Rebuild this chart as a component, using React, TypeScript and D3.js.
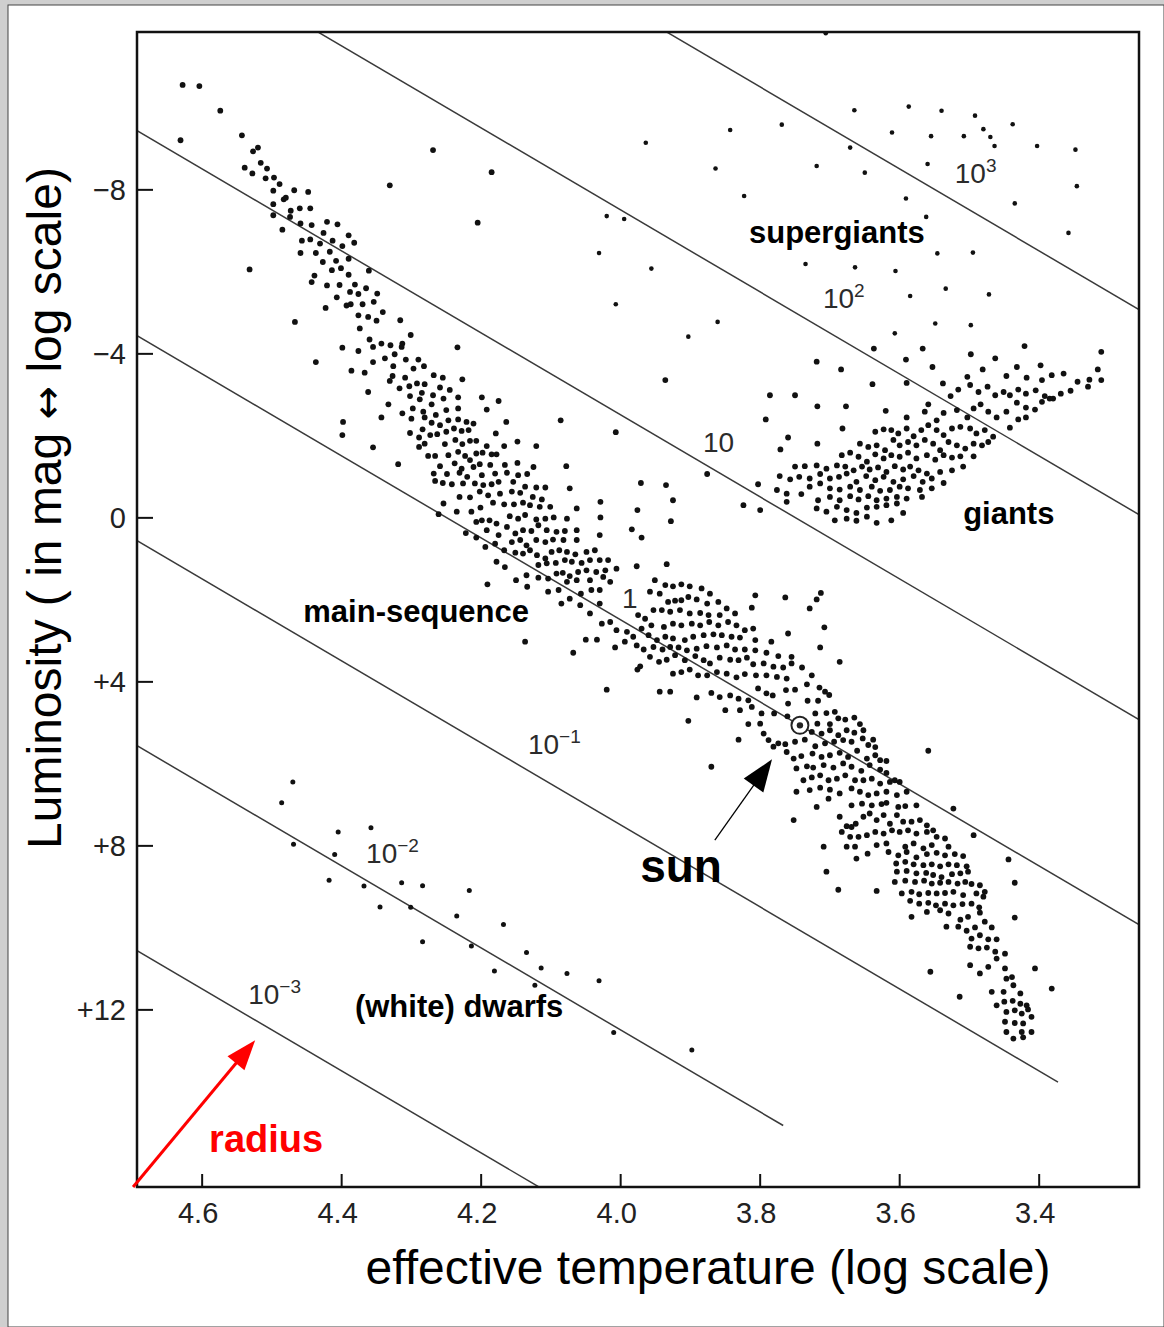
import React from "react";
import * as d3 from "d3";

// ---- axes ----
const tempExtent: [number, number] = [4.6934, 3.2569]; // log Teff at left / right frame
const magExtent: [number, number] = [-11.85, 16.32]; // absolute magnitude at top / bottom frame
const tempTicks = [4.6, 4.4, 4.2, 4.0, 3.8, 3.6, 3.4];
const tempTickLabels = ["4.6", "4.4", "4.2", "4.0", "3.8", "3.6", "3.4"];
const magTicks = [-8, -4, 0, 4, 8, 12];
const magTickLabels = ["−8", "−4", "0", "+4", "+8", "+12"];

// ---- constant-radius lines (solar radii) ----
const sunPoint: [number, number] = [3.743, 5.06];
const radii = [0.001, 0.01, 0.1, 1, 10, 100, 1000];
const radiusLineEnd = [3.2, 3.767, 3.373, 3.2, 3.2, 3.2, 3.2];
const radiusLabelBase = ["10", "10", "10", "1", "10", "10", "10"];
const radiusLabelExp = ["−3", "−2", "−1", "", "", "2", "3"];
const radiusLabelAt: [number, number][] = [
  [4.534, 11.86], [4.365, 8.42], [4.133, 5.77], [3.998, 2.2], [3.882, -1.6], [3.71, -5.11], [3.521, -8.16],
];

// ---- region names ----
const regionNames = ["supergiants", "giants", "main-sequence", "(white) dwarfs"];
const regionLabelAt: [number, number][] = [[3.816, -6.7], [3.509, 0.15], [4.455, 2.55], [4.381, 12.18]];
const sunLabelAt: [number, number] = [3.972, 8.89];
const sunArrow: [number, number][] = [[3.865, 7.86], [3.783, 5.89]];
const radiusLabelPos: [number, number] = [4.59, 15.47];
const radiusArrow: [number, number][] = [[4.699, 16.32], [4.524, 12.74]];

// ---- stars: [log Teff, absolute magnitude] ----
const mainSequence: [number, number][] = [
  [4.628,-10.56],[4.604,-10.53],[4.574,-9.93],[4.631,-9.21],[4.543,-9.33],[4.52,-9.03],[4.527,-8.94],[4.539,-8.54],[4.516,-8.66],[4.507,-8.52],[4.528,-8.4],[4.509,-8.28],[4.497,-8.3],[4.489,-8.14],[4.498,-7.98],[4.468,-7.99],[4.448,-7.95],[4.483,-7.77],[4.48,-7.81],[4.498,-7.65],[4.473,-7.49],[4.46,-7.55],[4.445,-7.55],[4.498,-7.38],[4.474,-7.34],[4.459,-7.18],[4.443,-7.14],[4.485,-7.03],[4.421,-7.22],[4.406,-7.16],[4.426,-6.95],[4.413,-6.76],[4.39,-6.89],[4.382,-6.71],[4.399,-6.63],[4.457,-6.76],[4.445,-6.79],[4.431,-6.69],[4.459,-6.46],[4.437,-6.46],[4.417,-6.49],[4.39,-6.32],[4.427,-6.24],[4.408,-6.27],[4.414,-6.04],[4.401,-6.09],[4.361,-6.03],[4.439,-5.91],[4.443,-5.75],[4.39,-5.93],[4.421,-5.67],[4.403,-5.68],[4.381,-5.69],[4.365,-5.6],[4.388,-5.51],[4.376,-5.46],[4.349,-5.47],[4.407,-5.38],[4.393,-5.18],[4.387,-5.21],[4.37,-5.21],[4.354,-5.27],[4.423,-5.12],[4.341,-5.02],[4.376,-4.94],[4.362,-4.9],[4.35,-4.81],[4.467,-4.78],[4.374,-4.62],[4.532,-6.06],[4.331,-8.11],[4.316,-4.82],
  [4.269,-8.97],[4.185,-8.43],[4.205,-7.2],[4.437,-3.8],
  [4.301,-4.46],[4.36,-4.35],[4.343,-4.25],[4.33,-4.21],[4.355,-4.17],[4.313,-4.25],[4.314,-4.17],[4.399,-4.15],[4.376,-4.07],[4.234,-4.16],[4.324,-3.99],[4.338,-3.89],[4.355,-3.8],[4.308,-3.86],[4.29,-3.86],[4.282,-3.7],[4.326,-3.7],[4.297,-3.64],[4.386,-3.59],[4.367,-3.54],[4.327,-3.46],[4.309,-3.42],[4.331,-3.34],[4.268,-3.48],[4.255,-3.42],[4.227,-3.38],[4.317,-3.16],[4.303,-3.21],[4.292,-3.28],[4.281,-3.26],[4.259,-3.18],[4.362,-3.07],[4.302,-2.97],[4.285,-3.05],[4.269,-2.99],[4.245,-3.12],[4.233,-2.94],[4.199,-2.94],[4.175,-2.85],[4.333,-2.77],[4.313,-2.55],[4.298,-2.67],[4.288,-2.89],[4.271,-2.77],[4.254,-2.91],[4.283,-2.59],[4.265,-2.51],[4.25,-2.63],[4.233,-2.67],[4.192,-2.64],[4.343,-2.45],[4.3,-2.42],[4.281,-2.45],[4.271,-2.32],[4.259,-2.26],[4.247,-2.38],[4.233,-2.4],[4.221,-2.34],[4.211,-2.3],[4.164,-2.34],[4.086,-2.38],[4.398,-2.34],[4.399,-2.02],[4.302,-2.07],[4.284,-2.16],[4.289,-1.96],[4.273,-2.02],[4.263,-2.04],[4.25,-2.1],[4.239,-2.18],[4.228,-2.12],[4.218,-2.14],[4.179,-2.06],[4.355,-1.72],[4.289,-1.73],[4.281,-1.81],[4.252,-1.8],[4.237,-1.9],[4.227,-1.8],[4.216,-1.88],[4.207,-1.88],[4.192,-1.75],[4.167,-1.75],[4.148,-1.86],[4.121,-1.75],[4.276,-1.51],[4.319,-1.31],
  [4.007,-2.09],[3.936,-3.36],[3.876,-1.07],
  [4.266,-1.51],[4.247,-1.53],[4.233,-1.61],[4.207,-1.57],[4.198,-1.59],[4.185,-1.55],[4.178,-1.55],[4.223,-1.51],[4.216,-1.41],[4.259,-1.26],[4.238,-1.33],[4.228,-1.2],[4.211,-1.24],[4.202,-1.31],[4.187,-1.29],[4.166,-1.29],[4.148,-1.34],[4.125,-1.24],[4.078,-1.26],
  [4.268,-1.08],[4.249,-1.07],[4.231,-1.1],[4.22,-1.0],[4.199,-1.04],[4.18,-1.08],[4.163,-1.1],[4.147,-1.04],[4.134,-1.07],[4.266,-0.9],[4.255,-0.85],[4.242,-0.82],[4.226,-0.84],[4.209,-0.84],[4.197,-0.8],[4.185,-0.82],[4.175,-0.88],[4.154,-0.88],[4.137,-0.76],[4.121,-0.74],[4.108,-0.74],[4.073,-0.72],[3.971,-0.85],[3.935,-0.8],
  [4.254,-0.35],[4.231,-0.51],[4.216,-0.5],[4.202,-0.64],[4.19,-0.55],[4.173,-0.59],[4.156,-0.64],[4.144,-0.61],[4.126,-0.51],[4.113,-0.45],[4.235,-0.15],[4.214,-0.15],[4.201,-0.25],[4.183,-0.37],[4.167,-0.33],[4.153,-0.33],[4.14,-0.37],[4.13,-0.31],[4.116,-0.27],[4.101,-0.27],[4.063,-0.23],[4.029,-0.39],[3.976,-0.19],[3.925,-0.43],
  [4.261,-0.09],[4.222,0.37],[4.207,0.1],[4.199,0.06],[4.188,0.06],[4.178,0.14],[4.159,-0.04],[4.147,0.02],[4.137,-0.07],[4.121,0.04],[4.108,0.02],[4.096,-0.01],[4.077,0.02],[4.029,-0.01],[3.928,0.08],
  [4.207,0.48],[4.192,0.3],[4.175,0.42],[4.163,0.22],[4.151,0.38],[4.14,0.3],[4.128,0.32],[4.118,0.18],[4.106,0.3],[4.092,0.34],[4.08,0.32],[4.063,0.3],[3.984,0.28],[3.97,0.48],
  [4.194,0.71],[4.18,0.63],[4.167,0.79],[4.156,0.59],[4.144,0.54],[4.135,0.67],[4.121,0.54],[4.108,0.59],[4.097,0.53],[4.082,0.54],[4.063,0.54],[4.03,0.42],
  [4.178,1.07],[4.166,1.2],[4.151,0.85],[4.14,0.87],[4.13,0.79],[4.12,0.91],[4.108,0.99],[4.099,0.83],[4.088,0.79],[4.077,0.83],[4.065,0.89],[4.049,0.83],[4.037,0.79],
  [4.135,1.4],[4.118,1.15],[4.106,1.11],[4.093,1.1],[4.08,1.03],[4.07,1.07],[4.056,1.1],[4.044,1.03],[4.03,1.03],[4.018,1.03],[4.006,1.24],
  [4.191,1.62],[4.15,1.52],[4.134,1.68],[4.118,1.46],[4.104,1.48],[4.092,1.36],[4.083,1.34],[4.073,1.42],[4.061,1.32],[4.049,1.28],[4.035,1.32],[4.022,1.28],[4.077,1.56],[4.063,1.52],[4.044,1.52],[4.025,1.44],[4.015,1.56],
  [4.085,2.09],[4.073,1.97],[4.057,1.85],[4.042,1.76],[4.03,1.76],[4.058,2.13],[4.044,2.33],[4.104,1.8],[4.089,1.76],[4.03,2.09],[4.015,2.54],[4.027,2.58],[4.006,2.74],
  [4.137,3.02],[4.068,3.29],[4.05,2.97],[4.034,2.97],[4.008,3.16],[4.02,4.19],
  [3.977,1.18],[3.934,1.13],[3.951,1.52],[3.936,1.64],[3.925,1.67],[3.913,1.62],[3.901,1.67],[3.884,1.72],[3.872,1.85],[3.958,1.8],[3.944,1.85],[3.932,2.05],[3.922,2.02],[3.913,2.01],[3.903,1.93],[3.891,1.99],[3.876,2.09],[3.86,2.05],[3.848,2.21],[3.836,2.33],[3.807,1.89],[3.764,1.94],[3.713,1.83],[3.719,1.99],[3.729,2.21],[3.812,2.19],
  [3.953,2.25],[3.941,2.25],[3.929,2.29],[3.915,2.25],[3.901,2.33],[3.886,2.32],[3.874,2.37],[3.858,2.37],[3.975,2.37],[3.965,2.46],[3.991,2.78],[3.97,2.7],[3.956,2.62],[3.938,2.66],[3.925,2.58],[3.913,2.62],[3.898,2.58],[3.886,2.62],[3.873,2.54],[3.86,2.62],[3.846,2.54],[3.834,2.62],[3.822,2.74],[3.81,2.7],[3.76,2.82],[3.708,2.67],
  [3.982,2.9],[3.96,2.86],[3.948,2.98],[3.936,2.9],[3.925,2.94],[3.908,2.98],[3.896,2.9],[3.881,2.86],[3.867,2.84],[3.855,2.86],[3.841,2.9],[3.829,2.92],[3.807,2.98],[3.784,3.02],[3.714,3.16],
  [3.994,3.02],[3.977,3.11],[3.967,3.21],[3.953,3.15],[3.94,3.21],[3.929,3.15],[3.917,3.16],[3.905,3.23],[3.891,3.19],[3.877,3.13],[3.862,3.16],[3.848,3.11],[3.836,3.21],[3.822,3.21],[3.807,3.23],[3.791,3.29],[3.774,3.37],[3.755,3.39],[3.686,3.51],
  [3.972,3.62],[3.976,3.7],[3.958,3.39],[3.945,3.51],[3.934,3.46],[3.922,3.35],[3.908,3.47],[3.893,3.37],[3.881,3.47],[3.872,3.55],[3.858,3.41],[3.843,3.46],[3.831,3.47],[3.819,3.41],[3.81,3.57],[3.795,3.55],[3.781,3.63],[3.767,3.65],[3.755,3.55],[3.74,3.65],[3.726,3.84],
  [3.925,3.8],[3.913,3.76],[3.901,3.7],[3.889,3.84],[3.876,3.84],[3.862,3.76],[3.848,3.8],[3.834,3.89],[3.822,3.81],[3.806,3.84],[3.791,3.84],[3.776,3.88],[3.762,3.92],
  [3.944,4.24],[3.929,4.24],[3.891,4.38],[3.87,4.27],[3.858,4.37],[3.843,4.33],[3.831,4.41],[3.817,4.45],[3.803,4.16],[3.791,4.28],[3.782,4.33],
  [3.903,4.95],[3.85,4.69],[3.829,4.69],[3.812,4.61],[3.798,4.77],[3.78,4.77],[3.831,5.41],[3.817,5.03],[3.8,5.02],[3.795,5.26],[3.788,5.42],[3.781,5.58],[3.774,5.5],[3.87,6.07],
  [3.763,4.2],[3.75,4.19],[3.733,4.06],[3.715,4.14],[3.707,4.24],[3.701,4.32],[3.76,4.53],[3.732,4.46],[3.717,4.46],[3.761,4.84],[3.721,4.77],[3.705,4.76],[3.693,4.73],
  [3.718,5.02],[3.7,5.03],[3.688,4.89],[3.678,4.92],[3.665,4.87],[3.657,5.03],[3.726,5.22],[3.712,5.26],[3.7,5.18],[3.688,5.3],[3.676,5.18],[3.665,5.24],[3.652,5.18],[3.638,5.41],[3.764,5.52],[3.75,5.46],[3.736,5.41],[3.721,5.57],[3.707,5.5],[3.694,5.46],[3.681,5.42],[3.669,5.46],[3.653,5.38],[3.645,5.54],[3.635,5.59],
  [3.762,5.71],[3.752,5.87],[3.741,5.81],[3.725,5.75],[3.712,5.83],[3.7,5.79],[3.686,5.73],[3.674,5.83],[3.661,5.68],[3.647,5.87],[3.635,5.79],[3.628,5.91],[3.619,5.93],[3.559,5.68],[3.748,6.11],[3.733,6.06],[3.724,6.09],[3.709,6.03],[3.695,6.09],[3.681,5.99],[3.669,6.07],[3.655,6.17],[3.643,6.03],[3.628,6.14],[3.619,6.22],[3.607,6.4],[3.6,6.44],
  [3.738,6.4],[3.726,6.33],[3.714,6.28],[3.702,6.4],[3.69,6.36],[3.678,6.28],[3.664,6.4],[3.652,6.4],[3.64,6.36],[3.628,6.48],[3.614,6.44],[3.748,6.68],[3.729,6.64],[3.714,6.58],[3.7,6.63],[3.686,6.72],[3.669,6.6],[3.657,6.68],[3.645,6.76],[3.633,6.72],[3.619,6.68],[3.604,6.76],[3.59,6.68],
  [3.719,7.05],[3.702,6.85],[3.669,7.01],[3.654,6.97],[3.64,7.01],[3.626,6.98],[3.619,6.95],[3.602,7.05],[3.592,7.03],[3.576,7.01],[3.523,7.09],
  [3.752,7.37],[3.686,7.29],[3.676,7.52],[3.669,7.54],[3.663,7.46],[3.652,7.29],[3.643,7.21],[3.633,7.37],[3.623,7.25],[3.614,7.46],[3.604,7.25],[3.595,7.41],[3.583,7.41],[3.571,7.37],[3.561,7.5],[3.552,7.62],
  [3.683,7.66],[3.671,7.78],[3.659,7.78],[3.647,7.74],[3.635,7.66],[3.623,7.7],[3.611,7.62],[3.6,7.66],[3.588,7.62],[3.576,7.7],[3.561,7.66],[3.547,7.78],[3.535,7.82],[3.494,7.74],
  [3.709,8.02],[3.676,8.02],[3.664,8.02],[3.662,8.31],[3.646,8.19],[3.633,7.98],[3.619,7.94],[3.592,8.02],[3.58,7.94],[3.566,8.06],[3.554,7.98],[3.53,8.02],[3.705,8.63],[3.688,9.07],[3.633,9.1],
  [3.616,8.15],[3.602,8.23],[3.59,8.15],[3.576,8.28],[3.561,8.2],[3.547,8.17],[3.535,8.23],[3.521,8.2],[3.509,8.25],[3.444,8.33],[3.605,8.43],[3.592,8.39],[3.58,8.45],[3.566,8.47],[3.554,8.45],[3.542,8.5],[3.53,8.45],[3.518,8.47],[3.504,8.5],
  [3.604,8.63],[3.59,8.61],[3.576,8.67],[3.562,8.66],[3.552,8.71],[3.54,8.76],[3.525,8.69],[3.513,8.67],[3.502,8.63],[3.607,8.88],[3.592,8.85],[3.578,8.88],[3.565,8.85],[3.554,8.92],[3.542,8.9],[3.53,8.88],[3.517,8.92],[3.506,8.88],[3.497,8.93],[3.485,8.96],[3.478,9.12],[3.435,8.9],
  [3.597,9.16],[3.583,9.12],[3.572,9.18],[3.559,9.15],[3.547,9.16],[3.535,9.15],[3.523,9.12],[3.509,9.2],[3.49,9.16],[3.48,9.24],[3.585,9.34],[3.572,9.41],[3.559,9.39],[3.548,9.45],[3.535,9.41],[3.523,9.45],[3.51,9.42],[3.497,9.41],[3.486,9.5],
  [3.583,9.73],[3.561,9.61],[3.542,9.57],[3.53,9.65],[3.513,9.8],[3.502,9.73],[3.485,9.63],[3.533,9.97],[3.516,9.97],[3.504,10.07],[3.492,9.99],[3.478,9.85],[3.468,9.99],[3.435,9.75],
  [3.497,10.26],[3.485,10.18],[3.473,10.28],[3.461,10.28],[3.499,10.46],[3.487,10.5],[3.475,10.48],[3.463,10.58],[3.449,10.63],[3.499,10.91],[3.485,11.11],[3.473,10.95],[3.461,10.75],[3.449,10.99],[3.406,10.99],[3.556,11.07],
  [3.514,11.68],[3.468,11.56],[3.451,11.56],[3.447,11.24],[3.439,11.2],[3.437,11.4],[3.427,11.6],[3.461,11.89],[3.45,11.8],[3.438,11.78],[3.427,11.85],[3.418,11.89],[3.382,11.48],[3.447,12.05],[3.435,12.01],[3.425,12.09],[3.416,11.99],[3.411,12.17],[3.449,12.29],[3.435,12.32],[3.423,12.33],[3.447,12.54],[3.437,12.7],[3.425,12.54],[3.411,12.54],[3.423,12.67],
];

const giants: [number, number][] = [
  [3.637,-4.13],[3.567,-4.13],[3.421,-4.19],[3.311,-4.05],[3.591,-3.86],[3.498,-3.99],[3.463,-3.89],[3.719,-3.81],[3.684,-3.62],[3.553,-3.68],[3.481,-3.62],[3.432,-3.68],[3.398,-3.72],
  [3.639,-3.26],[3.59,-3.29],[3.538,-3.28],[3.503,-3.44],[3.447,-3.46],[3.418,-3.42],[3.396,-3.36],[3.382,-3.48],[3.365,-3.52],[3.345,-3.32],[3.328,-3.37],[3.311,-3.36],[3.316,-3.62],
  [3.786,-2.99],[3.75,-2.99],[3.718,-2.72],[3.677,-2.72],[3.62,-2.61],[3.559,-2.77],[3.527,-2.97],[3.516,-3.13],[3.499,-3.24],[3.487,-3.07],[3.474,-3.2],[3.463,-2.99],[3.451,-3.07],[3.442,-2.99],[3.43,-3.13],[3.419,-3.03],[3.405,-3.11],[3.392,-2.97],[3.38,-2.91],[3.369,-3.03],[3.355,-3.1],[3.33,-3.2],
  [3.792,-2.4],[3.682,-2.18],[3.76,-1.96],[3.718,-1.81],[3.771,-1.67],
  [3.59,-2.45],[3.564,-2.59],[3.547,-2.38],[3.537,-2.56],[3.518,-2.63],[3.503,-2.45],[3.494,-2.67],[3.484,-2.77],[3.473,-2.59],[3.461,-2.45],[3.447,-2.59],[3.432,-2.81],[3.419,-2.69],[3.406,-2.64],[3.396,-2.83],[3.385,-2.91],[3.442,-2.2],[3.43,-2.4],[3.419,-2.45],
  [3.612,-2.14],[3.602,-2.06],[3.59,-2.18],[3.58,-1.99],[3.569,-2.14],[3.559,-2.26],[3.547,-2.14],[3.537,-2.02],[3.525,-2.18],[3.513,-2.22],[3.499,-2.18],[3.49,-2.06],[3.478,-2.14],[3.466,-1.98],[3.635,-2.1],[3.623,-2.16],
  [3.657,-1.81],[3.645,-1.73],[3.633,-1.77],[3.621,-1.65],[3.609,-1.9],[3.6,-1.77],[3.588,-1.85],[3.576,-1.77],[3.564,-1.9],[3.552,-1.81],[3.542,-1.65],[3.53,-1.85],[3.518,-1.77],[3.506,-1.69],[3.494,-1.81],[3.482,-1.77],[3.473,-1.85],
  [3.683,-1.53],[3.671,-1.59],[3.659,-1.49],[3.647,-1.37],[3.635,-1.55],[3.623,-1.45],[3.612,-1.53],[3.6,-1.49],[3.588,-1.59],[3.576,-1.45],[3.561,-1.53],[3.549,-1.42],[3.537,-1.53],[3.525,-1.47],[3.513,-1.5],[3.494,-1.5],
  [3.75,-1.25],[3.736,-1.26],[3.719,-1.28],[3.705,-1.2],[3.69,-1.28],[3.678,-1.25],[3.666,-1.16],[3.654,-1.25],[3.643,-1.18],[3.631,-1.23],[3.619,-1.12],[3.607,-1.26],[3.595,-1.18],[3.585,-1.25],[3.573,-1.16],[3.561,-1.08],[3.542,-1.12],[3.525,-1.16],[3.509,-1.25],
  [3.772,-1.02],[3.757,-0.94],[3.744,-1.0],[3.729,-0.96],[3.714,-1.07],[3.7,-0.96],[3.687,-1.0],[3.676,-1.08],[3.662,-0.88],[3.648,-1.02],[3.635,-0.92],[3.623,-1.0],[3.609,-0.88],[3.595,-0.94],[3.58,-1.02],[3.567,-0.88],[3.554,-0.96],[3.537,-0.85],
  [3.803,-0.82],[3.776,-0.68],[3.762,-0.59],[3.741,-0.58],[3.729,-0.76],[3.714,-0.84],[3.7,-0.72],[3.686,-0.69],[3.671,-0.76],[3.657,-0.68],[3.64,-0.76],[3.628,-0.66],[3.614,-0.68],[3.6,-0.76],[3.588,-0.72],[3.571,-0.68],[3.554,-0.72],
  [3.824,-0.31],[3.8,-0.19],[3.762,-0.39],[3.717,-0.43],[3.7,-0.51],[3.686,-0.43],[3.671,-0.53],[3.659,-0.45],[3.645,-0.53],[3.633,-0.43],[3.619,-0.47],[3.604,-0.51],[3.59,-0.47],[3.568,-0.51],
  [3.719,-0.23],[3.705,-0.15],[3.69,-0.27],[3.676,-0.19],[3.662,-0.12],[3.647,-0.25],[3.633,-0.27],[3.619,-0.31],[3.604,-0.35],
  [3.693,0.06],[3.676,0.02],[3.662,0.07],[3.647,-0.03],[3.633,0.12],[3.612,0.06],[3.595,-0.12],
];

const supergiants: [number, number][] = [
  [3.706,-11.82],
  [3.665,-9.94],[3.587,-10.03],[3.54,-9.93],[3.492,-9.81],[3.438,-9.6],[3.611,-9.4],[3.555,-9.31],[3.508,-9.31],[3.48,-9.48],[3.47,-9.29],[3.464,-9.07],[3.403,-9.07],[3.348,-8.98],[3.671,-9.03],[3.56,-8.63],
  [3.964,-9.15],[3.843,-9.46],[3.769,-9.59],[3.864,-8.52],[3.719,-8.58],[3.65,-8.42],[3.591,-7.79],[3.562,-7.34],[3.435,-7.67],[3.346,-8.09],[3.358,-6.95],[3.823,-7.85],
  [4.02,-7.36],[3.995,-7.29],[4.031,-6.46],[3.956,-6.08],[3.735,-6.19],[3.664,-6.11],[3.606,-6.02],[3.546,-6.45],[3.495,-6.47],
  [4.007,-5.21],[3.861,-4.78],[3.903,-4.42],[3.585,-5.41],[3.534,-5.59],[3.472,-5.45],[3.607,-4.5],[3.549,-4.74],[3.498,-4.7],
];

const whiteDwarfs: [number, number][] = [
  [4.47,6.44],[4.486,6.95],[4.405,7.66],[4.358,7.56],[4.469,7.96],[4.41,8.21],[4.418,8.84],[4.368,8.98],[4.314,8.9],[4.284,8.97],[4.217,9.09],[4.345,9.49],[4.301,9.5],[4.235,9.71],[4.168,9.92],[4.284,10.34],[4.214,10.44],[4.135,10.6],[4.114,10.98],[4.181,11.05],[4.077,11.11],[4.123,11.4],[4.031,11.29],[4.01,12.55],[3.898,12.98],
];

// ---- layout ----
const W = 1164;
const H = 1327;
const plot = { left: 137, right: 1139, top: 32, bottom: 1187 };
const FONT = "'Liberation Sans', Arial, Helvetica, sans-serif";

function Arrow(props: {
  from: [number, number]; to: [number, number]; head: number; half: number; color: string; width: number;
}) {
  const { from, to, head, half, color, width } = props;
  const dx = to[0] - from[0];
  const dy = to[1] - from[1];
  const len = Math.hypot(dx, dy);
  const ux = dx / len;
  const uy = dy / len;
  const bx = to[0] - ux * head;
  const by = to[1] - uy * head;
  const px = -uy;
  const py = ux;
  return (
    <g>
      <line x1={from[0]} y1={from[1]} x2={bx + ux * 2} y2={by + uy * 2} stroke={color} strokeWidth={width} />
      <polygon
        points={`${to[0]},${to[1]} ${bx + px * half},${by + py * half} ${bx - px * half},${by - py * half}`}
        fill={color}
      />
    </g>
  );
}

export default function App() {
  const x = d3.scaleLinear().domain(tempExtent).range([plot.left, plot.right]);
  const y = d3.scaleLinear().domain(magExtent).range([plot.top, plot.bottom]);

  const radiusMag = (logT: number, r: number) => sunPoint[1] - 5 * Math.log10(r) + 10 * (sunPoint[0] - logT);
  const radiusPath = (r: number, end: number) => {
    const pts: [number, number][] = [[4.8, radiusMag(4.8, r)], [end, radiusMag(end, r)]];
    return d3.line<[number, number]>().x((d) => x(d[0])).y((d) => y(d[1]))(pts) || "";
  };

  const groups: { data: [number, number][]; r: number }[] = [
    { data: mainSequence, r: 2.9 },
    { data: giants, r: 2.9 },
    { data: supergiants, r: 2.3 },
    { data: whiteDwarfs, r: 2.5 },
  ];

  return (
    <svg
      width={W}
      height={H}
      viewBox={`0 0 ${W} ${H}`}
      style={{ position: "absolute", left: 0, top: 0, display: "block" }}
      fontFamily={FONT}
    >
      <rect x={0} y={0} width={W} height={H} fill="#cfcfcf" />
      <rect x={8} y={5} width={W - 8} height={H - 5} fill="#ffffff" stroke="#444" strokeWidth={1} />

      <defs>
        <clipPath id="plot-clip">
          <rect x={plot.left} y={plot.top} width={plot.right - plot.left} height={plot.bottom - plot.top} />
        </clipPath>
      </defs>

      {/* constant-radius lines */}
      <g clipPath="url(#plot-clip)" stroke="#3a3a3a" strokeWidth={1.5} fill="none">
        {radii.map((r, i) => (
          <path key={r} d={radiusPath(r, radiusLineEnd[i])} />
        ))}
      </g>

      {/* radius labels */}
      <g fill="#2b2b2b" fontSize={28}>
        {radii.map((r, i) => (
          <text key={r} x={x(radiusLabelAt[i][0])} y={y(radiusLabelAt[i][1])}>
            {radiusLabelBase[i]}
            {radiusLabelExp[i] && (
              <tspan fontSize={19} dy={-11}>
                {radiusLabelExp[i]}
              </tspan>
            )}
          </text>
        ))}
      </g>

      {/* stars */}
      <g fill="#111">
        {groups.map((g, gi) =>
          g.data.map((d, i) => <circle key={`${gi}-${i}`} cx={x(d[0])} cy={y(d[1])} r={g.r} />)
        )}
      </g>

      {/* the sun */}
      <circle cx={x(sunPoint[0])} cy={y(sunPoint[1])} r={8.5} fill="#fff" stroke="#222" strokeWidth={2} />
      <circle cx={x(sunPoint[0])} cy={y(sunPoint[1])} r={3.2} fill="#222" />

      {/* frame and ticks */}
      <rect
        x={plot.left}
        y={plot.top}
        width={plot.right - plot.left}
        height={plot.bottom - plot.top}
        fill="none"
        stroke="#111"
        strokeWidth={2.5}
      />
      <g stroke="#111" strokeWidth={2}>
        {tempTicks.map((t) => (
          <line key={t} x1={x(t)} x2={x(t)} y1={plot.bottom} y2={plot.bottom - 13} />
        ))}
        {magTicks.map((m) => (
          <line key={m} x1={plot.left} x2={plot.left + 16} y1={y(m)} y2={y(m)} />
        ))}
      </g>
      <g fontSize={29} fill="#222" textAnchor="middle">
        {tempTicks.map((t, i) => (
          <text key={t} x={x(t) - 4} y={plot.bottom + 36}>
            {tempTickLabels[i]}
          </text>
        ))}
      </g>
      <g fontSize={29} fill="#222" textAnchor="end">
        {magTicks.map((m, i) => (
          <text key={m} x={plot.left - 11} y={y(m) + 10}>
            {magTickLabels[i]}
          </text>
        ))}
      </g>

      {/* axis titles */}
      <text x={708} y={1284} fontSize={48} textAnchor="middle" fill="#000">
        effective temperature (log scale)
      </text>
      <text transform="translate(61,508) rotate(-90)" fontSize={48} textAnchor="middle" fill="#000">
        Luminosity ( in mag{" "}
        <tspan fontFamily="'DejaVu Sans', sans-serif" fontSize={40}>
          ↔
        </tspan>{" "}
        log scale)
      </text>

      {/* region names */}
      <g fontSize={31} fontWeight="bold" fill="#000">
        {regionNames.map((n, i) => (
          <text key={n} x={x(regionLabelAt[i][0])} y={y(regionLabelAt[i][1])}>
            {n}
          </text>
        ))}
      </g>

      {/* sun pointer */}
      <text x={x(sunLabelAt[0])} y={y(sunLabelAt[1])} fontSize={46} fontWeight="bold" fill="#000">
        sun
      </text>
      <Arrow
        from={[x(sunArrow[0][0]), y(sunArrow[0][1])]}
        to={[x(sunArrow[1][0]), y(sunArrow[1][1])]}
        head={32}
        half={12}
        color="#000"
        width={1.3}
      />

      {/* radius direction */}
      <Arrow
        from={[x(radiusArrow[0][0]), y(radiusArrow[0][1])]}
        to={[x(radiusArrow[1][0]), y(radiusArrow[1][1])]}
        head={30}
        half={11}
        color="#ff0000"
        width={3}
      />
      <text x={x(radiusLabelPos[0])} y={y(radiusLabelPos[1])} fontSize={38} fontWeight="bold" fill="#ff0000">
        radius
      </text>
    </svg>
  );
}
